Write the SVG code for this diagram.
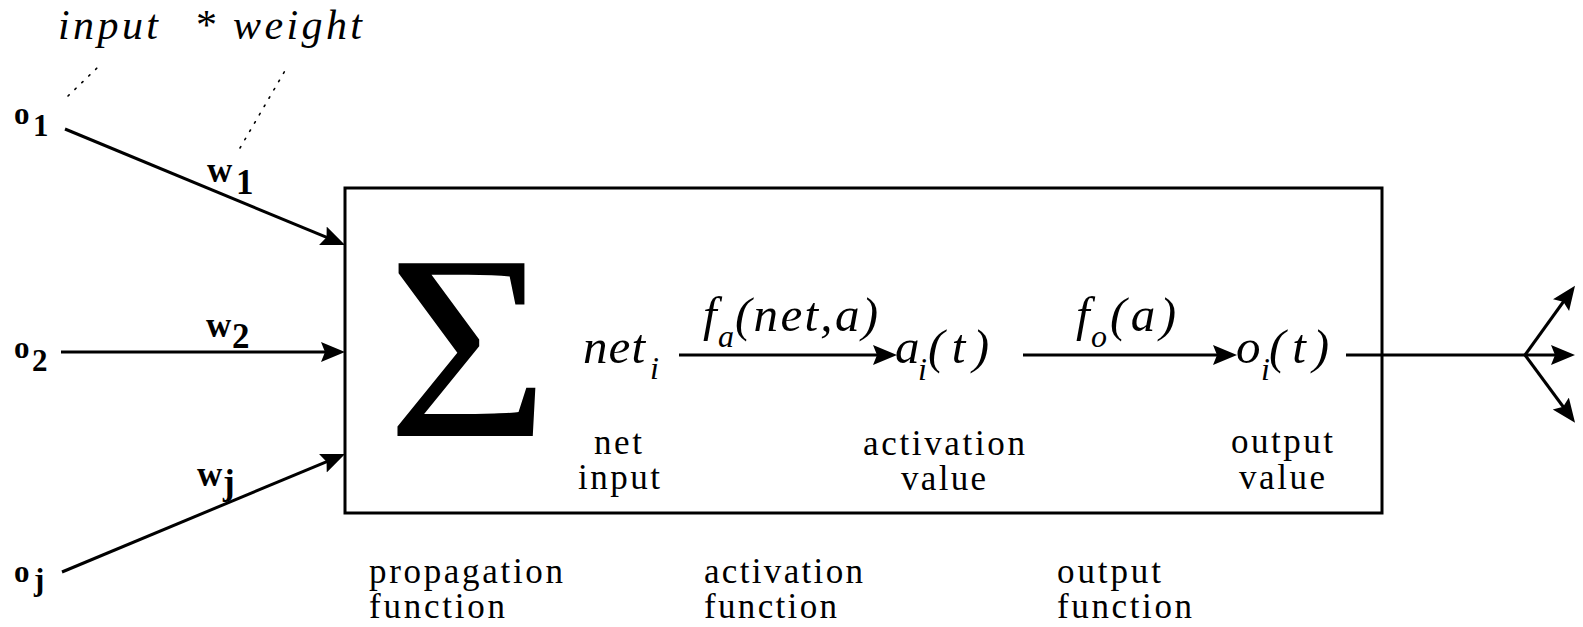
<svg xmlns="http://www.w3.org/2000/svg" width="1583" height="627" viewBox="0 0 1583 627">
<style>
.t{font-family:"Liberation Serif","Times New Roman",serif;fill:#000}
.it{font-style:italic}
.b{font-weight:bold;font-size:31px}
.w{font-weight:bold;font-size:35px}
.lbl{font-size:35px}
.m{font-size:49px}
.sub{font-size:32px}
.ln{stroke:#000;stroke-width:3;fill:none}
.dot{stroke:#000;stroke-width:1.6;fill:none;stroke-dasharray:1.6 8;stroke-linecap:round}
</style>
<defs>
<marker id="ah" markerUnits="userSpaceOnUse" markerWidth="26" markerHeight="22" refX="18" refY="10" orient="auto">
<path d="M0,0 L24,10 L0,20 L4,10 z" fill="#000"/>
</marker>
</defs>
<rect width="1583" height="627" fill="#fff"/>

<g id="header">
<text class="t it" x="58" y="39" font-size="42" textLength="100" lengthAdjust="spacing">input</text>
<text class="t it" x="194" y="39" font-size="42">*</text>
<text class="t it" x="233" y="39" font-size="42" textLength="129" lengthAdjust="spacing">weight</text>
</g>

<g id="connectors">
<path class="dot" d="M68,96 L97,68"/>
<path class="dot" d="M240,148 L286,69"/>
<line class="ln" x1="65" y1="129" x2="339.5" y2="242.7" marker-end="url(#ah)"/>
<line class="ln" x1="61" y1="352" x2="339" y2="352" marker-end="url(#ah)"/>
<line class="ln" x1="62" y1="572" x2="339.5" y2="456.3" marker-end="url(#ah)"/>
<line class="ln" x1="679" y1="355" x2="891" y2="355" marker-end="url(#ah)"/>
<line class="ln" x1="1023" y1="355" x2="1231" y2="355" marker-end="url(#ah)"/>
<line class="ln" x1="1346" y1="355" x2="1569" y2="355" marker-end="url(#ah)"/>
<line class="ln" x1="1525" y1="355" x2="1571.5" y2="290.5" marker-end="url(#ah)"/>
<line class="ln" x1="1525" y1="355" x2="1571.5" y2="418" marker-end="url(#ah)"/>
</g>

<g id="input1">
<text class="t b" x="14" y="124">o</text>
<text class="t b" x="33" y="136">1</text>
<text class="t w" x="207" y="182">w</text>
<text class="t w" x="236" y="194">1</text>
</g>
<g id="input2">
<text class="t b" x="14" y="358">o</text>
<text class="t b" x="32" y="371">2</text>
<text class="t w" x="206" y="337">w</text>
<text class="t w" x="232" y="348">2</text>
</g>
<g id="inputj">
<text class="t b" x="14" y="582">o</text>
<text class="t b" x="34" y="590">j</text>
<text class="t w" x="197" y="486">w</text>
<text class="t w" x="223" y="494">j</text>
</g>

<g id="neuron">
<rect x="345" y="188" width="1037" height="325" fill="none" stroke="#000" stroke-width="3"/>
</g>

<g id="sum">
<text class="t" transform="translate(468,436) scale(1.06,1)" x="0" y="0" font-size="264" text-anchor="middle">Σ</text>
</g>

<g id="netinput">
<text class="t it m" x="583" y="363" textLength="62" lengthAdjust="spacing">net</text>
<text class="t it sub" x="650" y="379">i</text>
<text class="t lbl" x="594" y="454" textLength="48" lengthAdjust="spacing">net</text>
<text class="t lbl" x="578" y="489" textLength="82" lengthAdjust="spacing">input</text>
</g>

<g id="fa">
<text class="t it m" x="703" y="331">f</text>
<text class="t it sub" x="718" y="347">a</text>
<text class="t it m" x="735" y="331" textLength="143" lengthAdjust="spacing">(net,a)</text>
</g>

<g id="activation">
<text class="t it m" x="895" y="363">a</text>
<text class="t it sub" x="918" y="380">i</text>
<text class="t it m" x="928" y="363" textLength="61" lengthAdjust="spacing">(t)</text>
<text class="t lbl" x="863" y="455" textLength="162" lengthAdjust="spacing">activation</text>
<text class="t lbl" x="901" y="490" textLength="85" lengthAdjust="spacing">value</text>
</g>

<g id="fo">
<text class="t it m" x="1076" y="331">f</text>
<text class="t it sub" x="1091" y="347">o</text>
<text class="t it m" x="1110" y="331" textLength="66" lengthAdjust="spacing">(a)</text>
</g>

<g id="output">
<text class="t it m" x="1236" y="363">o</text>
<text class="t it sub" x="1261" y="380">i</text>
<text class="t it m" x="1269" y="363" textLength="60" lengthAdjust="spacing">(t)</text>
<text class="t lbl" x="1231" y="453" textLength="102" lengthAdjust="spacing">output</text>
<text class="t lbl" x="1239" y="489" textLength="86" lengthAdjust="spacing">value</text>
</g>

<g id="footer">
<text class="t lbl" x="369" y="583" textLength="194" lengthAdjust="spacing">propagation</text>
<text class="t lbl" x="369" y="618" textLength="136" lengthAdjust="spacing">function</text>
<text class="t lbl" x="704" y="583" textLength="159" lengthAdjust="spacing">activation</text>
<text class="t lbl" x="704" y="618" textLength="133" lengthAdjust="spacing">function</text>
<text class="t lbl" x="1057" y="583" textLength="104" lengthAdjust="spacing">output</text>
<text class="t lbl" x="1057" y="618" textLength="135" lengthAdjust="spacing">function</text>
</g>
</svg>
